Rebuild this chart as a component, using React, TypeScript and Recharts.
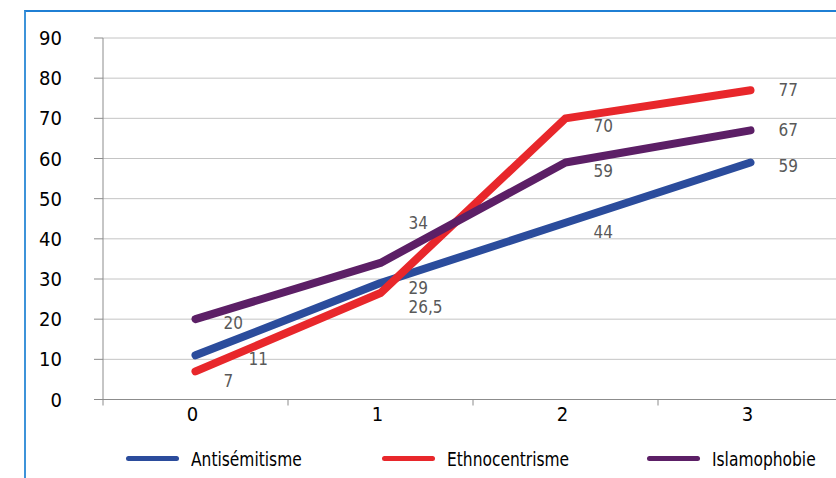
import { LineChart, Line, XAxis, YAxis, CartesianGrid, Legend } from 'recharts';

const categories = ['0', '1', '2', '3'];
const antisemitisme = [11, 29, 44, 59];
const ethnocentrisme = [7, 26.5, 70, 77];
const islamophobie = [20, 34, 59, 67];
const yTicks = [0, 10, 20, 30, 40, 50, 60, 70, 80, 90];

const data = categories.map((c, i) => ({
    cat: c,
    anti: antisemitisme[i],
    ethno: ethnocentrisme[i],
    islamo: islamophobie[i],
}));

const FONT = '"Liberation Sans Narrow", "Arial Narrow", "DejaVu Sans Condensed", sans-serif';

const series = [
    { key: 'anti', name: 'Antisémitisme', color: '#2b4c9c' },
    { key: 'ethno', name: 'Ethnocentrisme', color: '#e8272b' },
    { key: 'islamo', name: 'Islamophobie', color: '#5c1f66' },
];

// label nudges (Excel moved a few labels to avoid overlaps)
const labelShift: Record<string, { dx: number[]; dy: number[] }> = {
    anti: { dx: [53, 28, 28, 28], dy: [4, 5, 9, 3] },
    ethno: { dx: [28, 28, 28, 28], dy: [10, 14, 8, 0] },
    islamo: { dx: [28, 28, 28, 28], dy: [4, -40, 8, 0] },
};

const makeLabel = (key: string) => (props: any) => {
    const { x, y, value, index } = props;
    const s = labelShift[key];
    return (
        <text
            x={x + s.dx[index]}
            y={y + s.dy[index]}
            dominantBaseline="central"
            textAnchor="start"
            fill="#595959"
            fontSize={17}
            fontFamily={FONT}
        >
            {String(value).replace('.', ',')}
        </text>
    );
};

const XTick = (props: any) => {
    const { x, y, payload, index } = props;
    const half = payload.offset || 92.5;
    return (
        <g>
            <line x1={x - half} x2={x - half} y1={y - 8} y2={y - 2} stroke="#8c8c8c" />
            {index === categories.length - 1 && (
                <line x1={x + half} x2={x + half} y1={y - 8} y2={y - 2} stroke="#8c8c8c" />
            )}
            <text x={x - 3} y={y + 13} textAnchor="middle" fill="#000" fontSize={20} fontFamily={FONT}>
                {payload.value}
            </text>
        </g>
    );
};

const LegendBox = () => (
    <div style={{ display: 'flex', alignItems: 'center', paddingLeft: 126, height: 38, fontFamily: FONT, fontSize: 20, color: '#000' }}>
        {series.map((s, i) => (
            <div key={s.key} style={{ display: 'flex', alignItems: 'center', width: i === 0 ? 256 : i === 1 ? 265 : 'auto' }}>
                <span style={{ display: 'inline-block', width: 53, height: 5, borderRadius: 3, background: s.color, marginRight: 12 }}></span>
                <span style={{ display: 'inline-block', transform: 'scaleX(0.86)', transformOrigin: 'left center', whiteSpace: 'nowrap' }}>
                    {s.name}
                </span>
            </div>
        ))}
    </div>
);

export default function App() {
    return (
        <div style={{ position: 'relative', width: 836, height: 478, overflow: 'hidden', background: '#fff' }}>
            <style>{'body{margin:0}'}</style>
            <div
                style={{
                    position: 'absolute',
                    left: 24,
                    top: 10,
                    width: 836,
                    height: 500,
                    borderTop: '2px solid #1f7fd4',
                    borderLeft: '2px solid #3d93d9',
                }}
            ></div>
            <div style={{ position: 'absolute', left: 0, top: 0 }}>
                <LineChart width={850} height={478} data={data} margin={{ top: 38, right: 7, bottom: 0, left: 0 }}>
                    <CartesianGrid vertical={false} stroke="#c4c4c4" />
                    <XAxis
                        dataKey="cat"
                        scale="band"
                        height={40}
                        stroke="#8c8c8c"
                        tickLine={false}
                        tick={<XTick />}
                        interval={0}
                    />
                    <YAxis
                        domain={[0, 90]}
                        ticks={yTicks}
                        width={103}
                        stroke="#8c8c8c"
                        tickSize={9}
                        tickMargin={32}
                        tick={{ fill: '#000', fontSize: 20, fontFamily: FONT }}
                    />
                    <Legend verticalAlign="bottom" height={38.5} content={<LegendBox />} />
                    {series.map((s) => (
                        <Line
                            key={s.key}
                            dataKey={s.key}
                            name={s.name}
                            stroke={s.color}
                            strokeWidth={8}
                            strokeLinecap="round"
                            strokeLinejoin="round"
                            dot={false}
                            activeDot={false}
                            label={makeLabel(s.key)}
                            isAnimationActive={false}
                        />
                    ))}
                </LineChart>
            </div>
        </div>
    );
}
